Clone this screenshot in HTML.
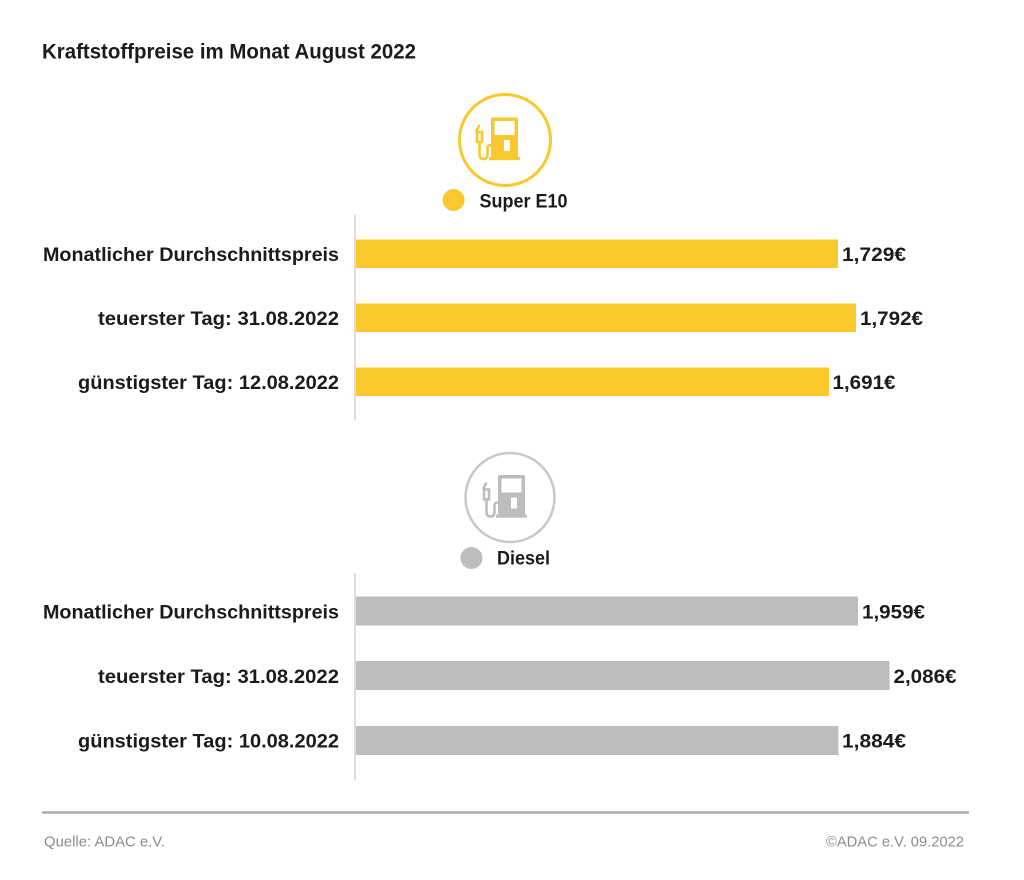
<!DOCTYPE html>
<html>
<head>
<meta charset="utf-8">
<style>
  html, body { margin:0; padding:0; background:#ffffff; }
  body { width:1024px; height:880px; overflow:hidden; }
  svg { display:block; }
  text { font-family: "Liberation Sans", "DejaVu Sans", sans-serif; }
  .b { font-weight:bold; fill:#1b1b1b; }
  .f { fill:#8c8c8c; font-size:15px; }
</style>
</head>
<body>
<svg width="1024" height="880" viewBox="0 0 1024 880" xmlns="http://www.w3.org/2000/svg">
  <rect width="1024" height="880" fill="#ffffff"/>

  <!-- Title -->
  <text class="b" x="42" y="58.5" font-size="21" textLength="374" lengthAdjust="spacingAndGlyphs">Kraftstoffpreise im Monat August 2022</text>

  <!-- ===== Super E10 icon ===== -->
  <g id="pumpE10">
    <circle cx="505" cy="140" r="45.5" fill="none" stroke="#f8c82e" stroke-width="3"/>
    <g fill="#f8c82e" stroke="none">
      <path d="M493,117.5 h23 a2,2 0 0 1 2,2 v38.5 h-27 v-38.5 a2,2 0 0 1 2,-2 z M494.5,121 v14 h20 v-14 z" fill-rule="evenodd"/>
      <rect x="489" y="157" width="31" height="3.2"/>
    </g>
    <rect x="504" y="140" width="6" height="11" fill="#ffffff"/>
    <g fill="none" stroke="#f8c82e" stroke-width="2.6" stroke-linecap="round" stroke-linejoin="round">
      <path d="M479,126 L476.5,131"/>
      <path d="M477,132 h5 v10 h-5 z"/>
      <path d="M479.5,142 V154.5 Q479.5,159 483.5,159 Q487.5,159 487.5,154.5 V148 Q487.5,145 491,145"/>
    </g>
  </g>
  <circle cx="453.5" cy="200" r="11" fill="#f8c82e"/>
  <text class="b" x="479.5" y="207.5" font-size="19.5" textLength="88" lengthAdjust="spacingAndGlyphs">Super E10</text>

  <!-- E10 axis -->
  <line x1="355" y1="215" x2="355" y2="420" stroke="#d2d2d2" stroke-width="1.5"/>

  <!-- E10 bars -->
  <rect x="356" y="239.5" width="482" height="28.5" fill="#fcc92d"/>
  <rect x="356" y="303.5" width="500" height="28.5" fill="#fcc92d"/>
  <rect x="356" y="367.5" width="473" height="28.5" fill="#fcc92d"/>

  <!-- E10 labels -->
  <text class="b" x="339" y="261" font-size="19.5" text-anchor="end" textLength="296" lengthAdjust="spacingAndGlyphs">Monatlicher Durchschnittspreis</text>
  <text class="b" x="339" y="325" font-size="19.5" text-anchor="end" textLength="241" lengthAdjust="spacingAndGlyphs">teuerster Tag: 31.08.2022</text>
  <text class="b" x="339" y="389" font-size="19.5" text-anchor="end" textLength="261" lengthAdjust="spacingAndGlyphs">günstigster Tag: 12.08.2022</text>

  <!-- E10 values -->
  <text class="b" x="842" y="261" font-size="19.5" textLength="64" lengthAdjust="spacingAndGlyphs">1,729€</text>
  <text class="b" x="860" y="325" font-size="19.5" textLength="63" lengthAdjust="spacingAndGlyphs">1,792€</text>
  <text class="b" x="832.5" y="389" font-size="19.5" textLength="63" lengthAdjust="spacingAndGlyphs">1,691€</text>

  <!-- ===== Diesel icon ===== -->
  <circle cx="510" cy="497.5" r="44.5" fill="none" stroke="#c8c8c8" stroke-width="2.5"/>
  <g transform="translate(7,357.5)">
    <g fill="#bdbdbd">
      <path d="M493,117.5 h23 a2,2 0 0 1 2,2 v38.5 h-27 v-38.5 a2,2 0 0 1 2,-2 z M494.5,121 v14 h20 v-14 z" fill-rule="evenodd"/>
      <rect x="489" y="157" width="31" height="3.2"/>
    </g>
    <rect x="504" y="140" width="6" height="11" fill="#ffffff"/>
    <g fill="none" stroke="#bdbdbd" stroke-width="2.6" stroke-linecap="round" stroke-linejoin="round">
      <path d="M479,126 L476.5,131"/>
      <path d="M477,132 h5 v10 h-5 z"/>
      <path d="M479.5,142 V154.5 Q479.5,159 483.5,159 Q487.5,159 487.5,154.5 V148 Q487.5,145 491,145"/>
    </g>
  </g>
  <circle cx="471.5" cy="558" r="11" fill="#bdbdbd"/>
  <text class="b" x="497" y="564.5" font-size="19.5" textLength="53" lengthAdjust="spacingAndGlyphs">Diesel</text>

  <!-- Diesel axis -->
  <line x1="355" y1="573" x2="355" y2="780" stroke="#d2d2d2" stroke-width="1.5"/>

  <!-- Diesel bars -->
  <rect x="356" y="596.5" width="502" height="29" fill="#bdbdbd"/>
  <rect x="356" y="661" width="533.5" height="29" fill="#bdbdbd"/>
  <rect x="356" y="726" width="482.5" height="29" fill="#bdbdbd"/>

  <!-- Diesel labels -->
  <text class="b" x="339" y="618.5" font-size="19.5" text-anchor="end" textLength="296" lengthAdjust="spacingAndGlyphs">Monatlicher Durchschnittspreis</text>
  <text class="b" x="339" y="683" font-size="19.5" text-anchor="end" textLength="241" lengthAdjust="spacingAndGlyphs">teuerster Tag: 31.08.2022</text>
  <text class="b" x="339" y="747.5" font-size="19.5" text-anchor="end" textLength="261" lengthAdjust="spacingAndGlyphs">günstigster Tag: 10.08.2022</text>

  <!-- Diesel values -->
  <text class="b" x="862" y="618.5" font-size="19.5" textLength="63" lengthAdjust="spacingAndGlyphs">1,959€</text>
  <text class="b" x="893.5" y="683" font-size="19.5" textLength="63" lengthAdjust="spacingAndGlyphs">2,086€</text>
  <text class="b" x="842" y="747.5" font-size="19.5" textLength="64" lengthAdjust="spacingAndGlyphs">1,884€</text>

  <!-- Footer -->
  <line x1="42" y1="812.5" x2="969" y2="812.5" stroke="#ababab" stroke-width="2.5"/>
  <text class="f" x="44" y="846.5" textLength="121" lengthAdjust="spacingAndGlyphs">Quelle: ADAC e.V.</text>
  <text class="f" x="964" y="846.5" text-anchor="end" textLength="138" lengthAdjust="spacingAndGlyphs">©ADAC e.V. 09.2022</text>
</svg>
</body>
</html>
